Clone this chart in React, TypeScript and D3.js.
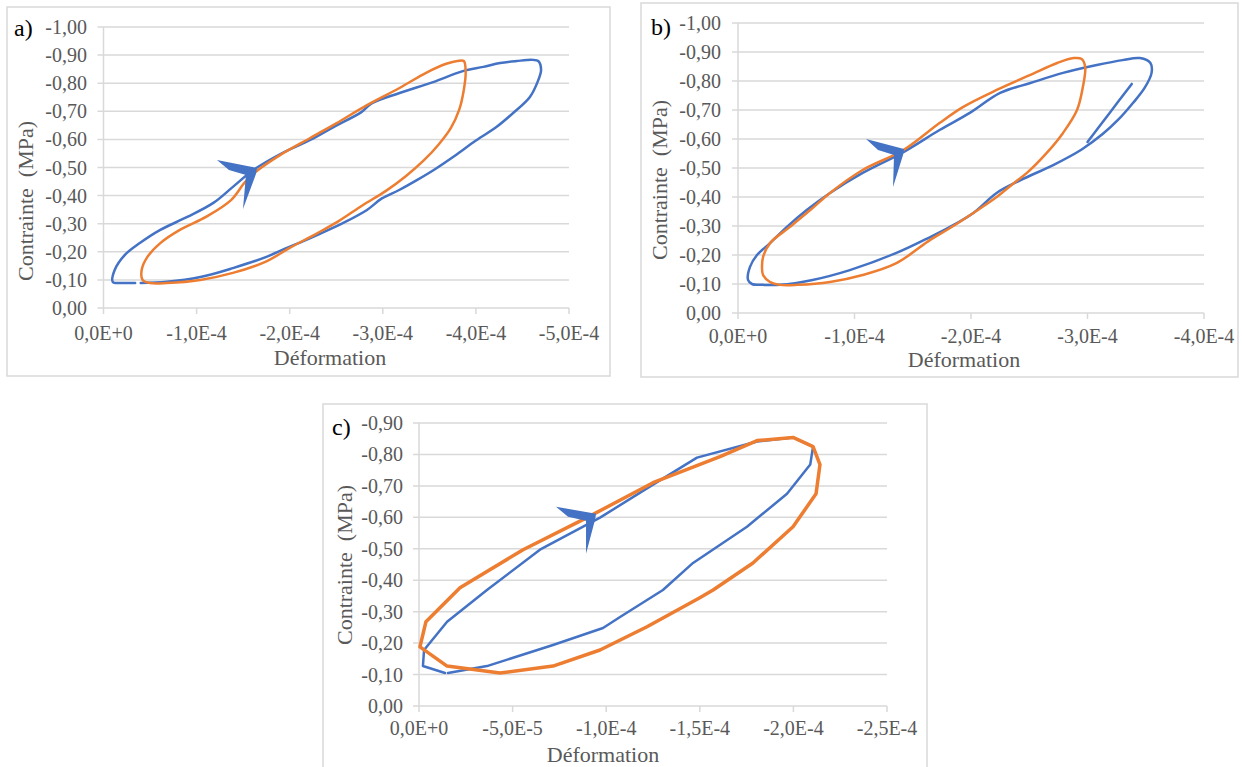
import React from 'react';
import * as d3 from 'd3';

type Pt = [number, number];

// ---------- DATA (strain, stress in MPa) ----------
// Panel a
const aBlue: Pt[] = [
  [-0.34e-4, -0.089], [-0.20e-4, -0.089], [-0.10e-4, -0.0925], [-0.12e-4, -0.135], [-0.23e-4, -0.189],
  [-0.39e-4, -0.231], [-0.61e-4, -0.278], [-0.90e-4, -0.324], [-1.18e-4, -0.374], [-1.39e-4, -0.431],
  [-1.61e-4, -0.491], [-1.90e-4, -0.548], [-2.22e-4, -0.598], [-2.47e-4, -0.644], [-2.77e-4, -0.697],
  [-2.88e-4, -0.728], [-3.18e-4, -0.765], [-3.54e-4, -0.804], [-3.86e-4, -0.843], [-4.08e-4, -0.858],
  [-4.26e-4, -0.872], [-4.44e-4, -0.879], [-4.61e-4, -0.883], [-4.67e-4, -0.879], [-4.70e-4, -0.847],
  [-4.67e-4, -0.811], [-4.58e-4, -0.751], [-4.40e-4, -0.694], [-4.22e-4, -0.644], [-4.00e-4, -0.596],
  [-3.77e-4, -0.541], [-3.56e-4, -0.494], [-3.37e-4, -0.456], [-3.17e-4, -0.419], [-2.99e-4, -0.390],
  [-2.83e-4, -0.349], [-2.57e-4, -0.302], [-2.33e-4, -0.265], [-2.11e-4, -0.233], [-1.95e-4, -0.211],
  [-1.75e-4, -0.182], [-1.39e-4, -0.142], [-1.04e-4, -0.110], [-0.68e-4, -0.093], [-0.40e-4, -0.089],
];
const aOrange: Pt[] = [
  [-0.42e-4, -0.100], [-0.41e-4, -0.135], [-0.47e-4, -0.181], [-0.61e-4, -0.231], [-0.82e-4, -0.278],
  [-1.11e-4, -0.326], [-1.37e-4, -0.384], [-1.52e-4, -0.448], [-1.64e-4, -0.486], [-1.90e-4, -0.545],
  [-2.22e-4, -0.605], [-2.50e-4, -0.657], [-2.83e-4, -0.722], [-3.18e-4, -0.783], [-3.47e-4, -0.838],
  [-3.69e-4, -0.870], [-3.80e-4, -0.879], [-3.87e-4, -0.879], [-3.89e-4, -0.840], [-3.87e-4, -0.776],
  [-3.82e-4, -0.705], [-3.73e-4, -0.640], [-3.60e-4, -0.582], [-3.44e-4, -0.525], [-3.25e-4, -0.470],
  [-3.03e-4, -0.416], [-2.78e-4, -0.365], [-2.53e-4, -0.310], [-2.29e-4, -0.265], [-2.00e-4, -0.214],
  [-1.75e-4, -0.166], [-1.39e-4, -0.125], [-1.04e-4, -0.100], [-0.68e-4, -0.089], [-0.50e-4, -0.089],
];

// Panel b
const bBlue: Pt[] = [
  [-0.215e-4, -0.097], [-0.12e-4, -0.100], [-0.086e-4, -0.114], [-0.103e-4, -0.159], [-0.163e-4, -0.200],
  [-0.275e-4, -0.241], [-0.42e-4, -0.297], [-0.59e-4, -0.355], [-0.79e-4, -0.414], [-1.07e-4, -0.483],
  [-1.42e-4, -0.555], [-1.73e-4, -0.631], [-1.99e-4, -0.690], [-2.25e-4, -0.759], [-2.51e-4, -0.793],
  [-2.79e-4, -0.828], [-3.08e-4, -0.855], [-3.30e-4, -0.872], [-3.45e-4, -0.879], [-3.54e-4, -0.862],
  [-3.55e-4, -0.828], [-3.49e-4, -0.776], [-3.39e-4, -0.724], [-3.27e-4, -0.669], [-3.13e-4, -0.617],
  [-2.95e-4, -0.564], [-2.71e-4, -0.511], [-2.43e-4, -0.459], [-2.22e-4, -0.414], [-2.02e-4, -0.345],
  [-1.82e-4, -0.297], [-1.65e-4, -0.262], [-1.36e-4, -0.207], [-0.96e-4, -0.148], [-0.64e-4, -0.114],
  [-0.36e-4, -0.097],
];
const bBlueTail: Pt[] = [[-3.38e-4, -0.790], [-3.19e-4, -0.690], [-3.00e-4, -0.590]];
const bOrange: Pt[] = [
  [-0.275e-4, -0.107], [-0.215e-4, -0.131], [-0.206e-4, -0.159], [-0.215e-4, -0.193], [-0.275e-4, -0.241],
  [-0.446e-4, -0.297], [-0.62e-4, -0.355], [-0.79e-4, -0.414], [-1.07e-4, -0.493], [-1.42e-4, -0.562],
  [-1.73e-4, -0.655], [-1.93e-4, -0.710], [-2.22e-4, -0.769], [-2.51e-4, -0.821], [-2.74e-4, -0.862],
  [-2.88e-4, -0.879], [-2.95e-4, -0.876], [-2.98e-4, -0.848], [-2.96e-4, -0.779], [-2.91e-4, -0.700],
  [-2.79e-4, -0.621], [-2.65e-4, -0.552], [-2.48e-4, -0.483], [-2.38e-4, -0.452], [-2.22e-4, -0.400],
  [-2.02e-4, -0.345], [-1.82e-4, -0.293], [-1.65e-4, -0.252], [-1.36e-4, -0.172], [-1.07e-4, -0.131],
  [-0.79e-4, -0.107], [-0.51e-4, -0.097], [-0.36e-4, -0.097],
];

// Panel c
const cBlue: Pt[] = [
  [-0.139e-4, -0.105], [-0.021e-4, -0.127], [-0.027e-4, -0.178], [-0.150e-4, -0.268], [-0.363e-4, -0.369],
  [-0.646e-4, -0.497], [-0.967e-4, -0.599], [-1.25e-4, -0.704], [-1.485e-4, -0.790], [-1.806e-4, -0.841],
  [-1.998e-4, -0.854], [-2.105e-4, -0.825], [-2.09e-4, -0.768], [-1.966e-4, -0.675], [-1.752e-4, -0.570],
  [-1.464e-4, -0.455], [-1.303e-4, -0.369], [-1.074e-4, -0.283], [-0.983e-4, -0.248], [-0.716e-4, -0.194],
  [-0.363e-4, -0.127], [-0.155e-4, -0.105],
];
const cOrange: Pt[] = [
  [-0.005e-4, -0.188], [-0.037e-4, -0.268], [-0.219e-4, -0.376], [-0.556e-4, -0.497], [-0.897e-4, -0.599],
  [-1.25e-4, -0.710], [-1.608e-4, -0.793], [-1.806e-4, -0.844], [-1.998e-4, -0.854], [-2.105e-4, -0.825],
  [-2.142e-4, -0.768], [-2.121e-4, -0.675], [-1.998e-4, -0.570], [-1.784e-4, -0.455], [-1.571e-4, -0.369],
  [-1.50e-4, -0.344], [-1.218e-4, -0.252], [-0.967e-4, -0.178], [-0.716e-4, -0.127], [-0.433e-4, -0.105],
  [-0.150e-4, -0.127],
];

const xTicksA = [0, -1e-4, -2e-4, -3e-4, -4e-4, -5e-4];
const xTicksB = [0, -1e-4, -2e-4, -3e-4, -4e-4];
const xTicksC = [0, -5e-5, -1e-4, -1.5e-4, -2e-4, -2.5e-4];
const yTicksAB = [0, -0.1, -0.2, -0.3, -0.4, -0.5, -0.6, -0.7, -0.8, -0.9, -1.0];
const yTicksC = [0, -0.1, -0.2, -0.3, -0.4, -0.5, -0.6, -0.7, -0.8, -0.9];
const panelLabels = ['a)', 'b)', 'c)'];
const xTitle = 'Déformation';
const yTitle = 'Contrainte  (MPa)';
const arrowTips: Pt[] = [[-1.627e-4, -0.491], [-1.408e-4, -0.559], [-0.935e-4, -0.605]];

// ---------- STYLE / LAYOUT ----------
const BLUE = '#4472C4';
const ORANGE = '#ED7D31';
const GRID = '#d9d9d9';
const TXT = '#595959';
const FONT = "'Liberation Serif', 'Times New Roman', 'Noto Serif', 'DejaVu Serif', serif";

const fmtY = (v: number) => Math.abs(v).toFixed(2) === '0.00' ? '0,00' : v.toFixed(2).replace('.', ',');
const fmtX = (v: number) => {
  if (v === 0) return '0,0E+0';
  const e = Math.floor(Math.log10(Math.abs(v)) + 1e-9);
  const m = v / Math.pow(10, e);
  return m.toFixed(1).replace('.', ',') + 'E' + (e < 0 ? '-' : '+') + Math.abs(e);
};

type Series = { data: Pt[]; color: string; width: number; closed: boolean };
type Cfg = {
  frame: { x: number; y: number; w: number; h: number };
  plot: { left: number; right: number; top: number; bottom: number };
  xDomain: [number, number];
  yDomain: [number, number];
  xTicks: number[];
  yTicks: number[];
  smooth: boolean;
  series: Series[];
  label: string;
  labelPos: [number, number];
  yTitlePos: [number, number];
  xTitlePos: [number, number];
  xTickBase: number;
  yTickRight: number;
  arrow: Pt;
  arrowShape: [number, number][];
};

const arrowShapeA: [number, number][] = [[2, -2], [-38, -10], [-26, 0], [-9, 5], [-12, 39], [1, 4]];
const arrowShapeB: [number, number][] = [[2, -2], [-36, -12], [-24, -1], [-8, 4], [-9, 36], [1, 4]];
const arrowShapeC: [number, number][] = [[2, -2], [-38, -9], [-26, 1], [-8, 5], [-8, 38], [1, 4]];

const panels: Cfg[] = [
  {
    frame: { x: 7, y: 7, w: 603, h: 369 },
    plot: { left: 103.5, right: 569, top: 27, bottom: 308 },
    xDomain: [0, -5e-4], yDomain: [0, -1],
    xTicks: xTicksA, yTicks: yTicksAB, smooth: true,
    series: [
      { data: aBlue, color: BLUE, width: 2.5, closed: false },
      { data: aOrange, color: ORANGE, width: 2.5, closed: true },
    ],
    label: panelLabels[0], labelPos: [14, 36],
    yTitlePos: [33, 201], xTitlePos: [330, 365], xTickBase: 340, yTickRight: 87,
    arrow: arrowTips[0], arrowShape: arrowShapeA,
  },
  {
    frame: { x: 641, y: 3, w: 597, h: 374 },
    plot: { left: 738, right: 1204, top: 23, bottom: 313 },
    xDomain: [0, -4e-4], yDomain: [0, -1],
    xTicks: xTicksB, yTicks: yTicksAB, smooth: true,
    series: [
      { data: bBlue, color: BLUE, width: 2.5, closed: true },
      { data: bBlueTail, color: BLUE, width: 2.5, closed: false },
      { data: bOrange, color: ORANGE, width: 2.5, closed: true },
    ],
    label: panelLabels[1], labelPos: [651, 35],
    yTitlePos: [667, 180], xTitlePos: [964, 367], xTickBase: 343, yTickRight: 721,
    arrow: arrowTips[1], arrowShape: arrowShapeB,
  },
  {
    frame: { x: 323, y: 404, w: 604, h: 380 },
    plot: { left: 419, right: 887, top: 423, bottom: 706 },
    xDomain: [0, -2.5e-4], yDomain: [0, -0.9],
    xTicks: xTicksC, yTicks: yTicksC, smooth: false,
    series: [
      { data: cBlue, color: BLUE, width: 2.5, closed: false },
      { data: cOrange, color: ORANGE, width: 3.5, closed: true },
    ],
    label: panelLabels[2], labelPos: [332, 435],
    yTitlePos: [352, 565], xTitlePos: [603, 762], xTickBase: 735, yTickRight: 403,
    arrow: arrowTips[2], arrowShape: arrowShapeC,
  },
];

function Panel({ cfg }: { cfg: Cfg }) {
  const { plot } = cfg;
  const x = d3.scaleLinear().domain(cfg.xDomain).range([plot.left, plot.right]);
  const y = d3.scaleLinear().domain(cfg.yDomain).range([plot.bottom, plot.top]);
  const mkLine = (s: Series) => {
    const curve = cfg.smooth
      ? (s.closed ? d3.curveCatmullRomClosed.alpha(0.5) : d3.curveCatmullRom.alpha(0.5))
      : (s.closed ? d3.curveLinearClosed : d3.curveLinear);
    return d3.line<Pt>().x(d => x(d[0])).y(d => y(d[1])).curve(curve)(s.data) || '';
  };
  const ax = x(cfg.arrow[0]);
  const ay = y(cfg.arrow[1]);
  const arrowPts = cfg.arrowShape.map(([dx, dy]) => `${ax + dx},${ay + dy}`).join(' ');
  const [tx, ty] = cfg.yTitlePos;
  const txt = { fontFamily: FONT };
  return (
    <g>
      <rect x={cfg.frame.x} y={cfg.frame.y} width={cfg.frame.w} height={cfg.frame.h}
        fill="#fff" stroke={GRID} strokeWidth={1.5} />
      {cfg.yTicks.map(t => (
        <g key={'y' + t}>
          <line x1={plot.left - 6} x2={plot.right} y1={y(t)} y2={y(t)} stroke={GRID} strokeWidth={1.5} />
          <text x={cfg.yTickRight} y={y(t)} dy="0.35em" textAnchor="end" style={txt}
            fontSize={20} fill={TXT}>{fmtY(t)}</text>
        </g>
      ))}
      <line x1={plot.left} x2={plot.left} y1={y(cfg.yDomain[1])} y2={plot.bottom} stroke={GRID} strokeWidth={1.5} />
      {cfg.xTicks.map(t => (
        <g key={'x' + t}>
          <line x1={x(t)} x2={x(t)} y1={plot.bottom} y2={plot.bottom + 6} stroke={GRID} strokeWidth={1.5} />
          <text x={x(t)} y={cfg.xTickBase} textAnchor="middle" style={txt}
            fontSize={20} fill={TXT}>{fmtX(t)}</text>
        </g>
      ))}
      <text x={cfg.xTitlePos[0]} y={cfg.xTitlePos[1]} textAnchor="middle" style={txt}
        fontSize={22} fill={TXT}>{xTitle}</text>
      <text x={tx} y={ty} transform={`rotate(-90, ${tx}, ${ty})`} textAnchor="middle"
        fontSize={22} fill={TXT} style={{ fontFamily: FONT, whiteSpace: 'pre' }}>{yTitle}</text>
      <text x={cfg.labelPos[0]} y={cfg.labelPos[1]} style={txt} fontSize={24} fill="#000">{cfg.label}</text>
      {cfg.series.map((s, i) => (
        <path key={i} d={mkLine(s)} fill="none" stroke={s.color} strokeWidth={s.width}
          strokeLinejoin="round" strokeLinecap="round" />
      ))}
      <polygon points={arrowPts} fill={BLUE} />
    </g>
  );
}

export default function App() {
  return (
    <svg width={1242} height={767} style={{ position: 'absolute', left: 0, top: 0, background: '#fff' }}>
      <rect x={0} y={0} width={1242} height={767} fill="#fff" />
      {panels.map((p, i) => <Panel key={i} cfg={p} />)}
    </svg>
  );
}
